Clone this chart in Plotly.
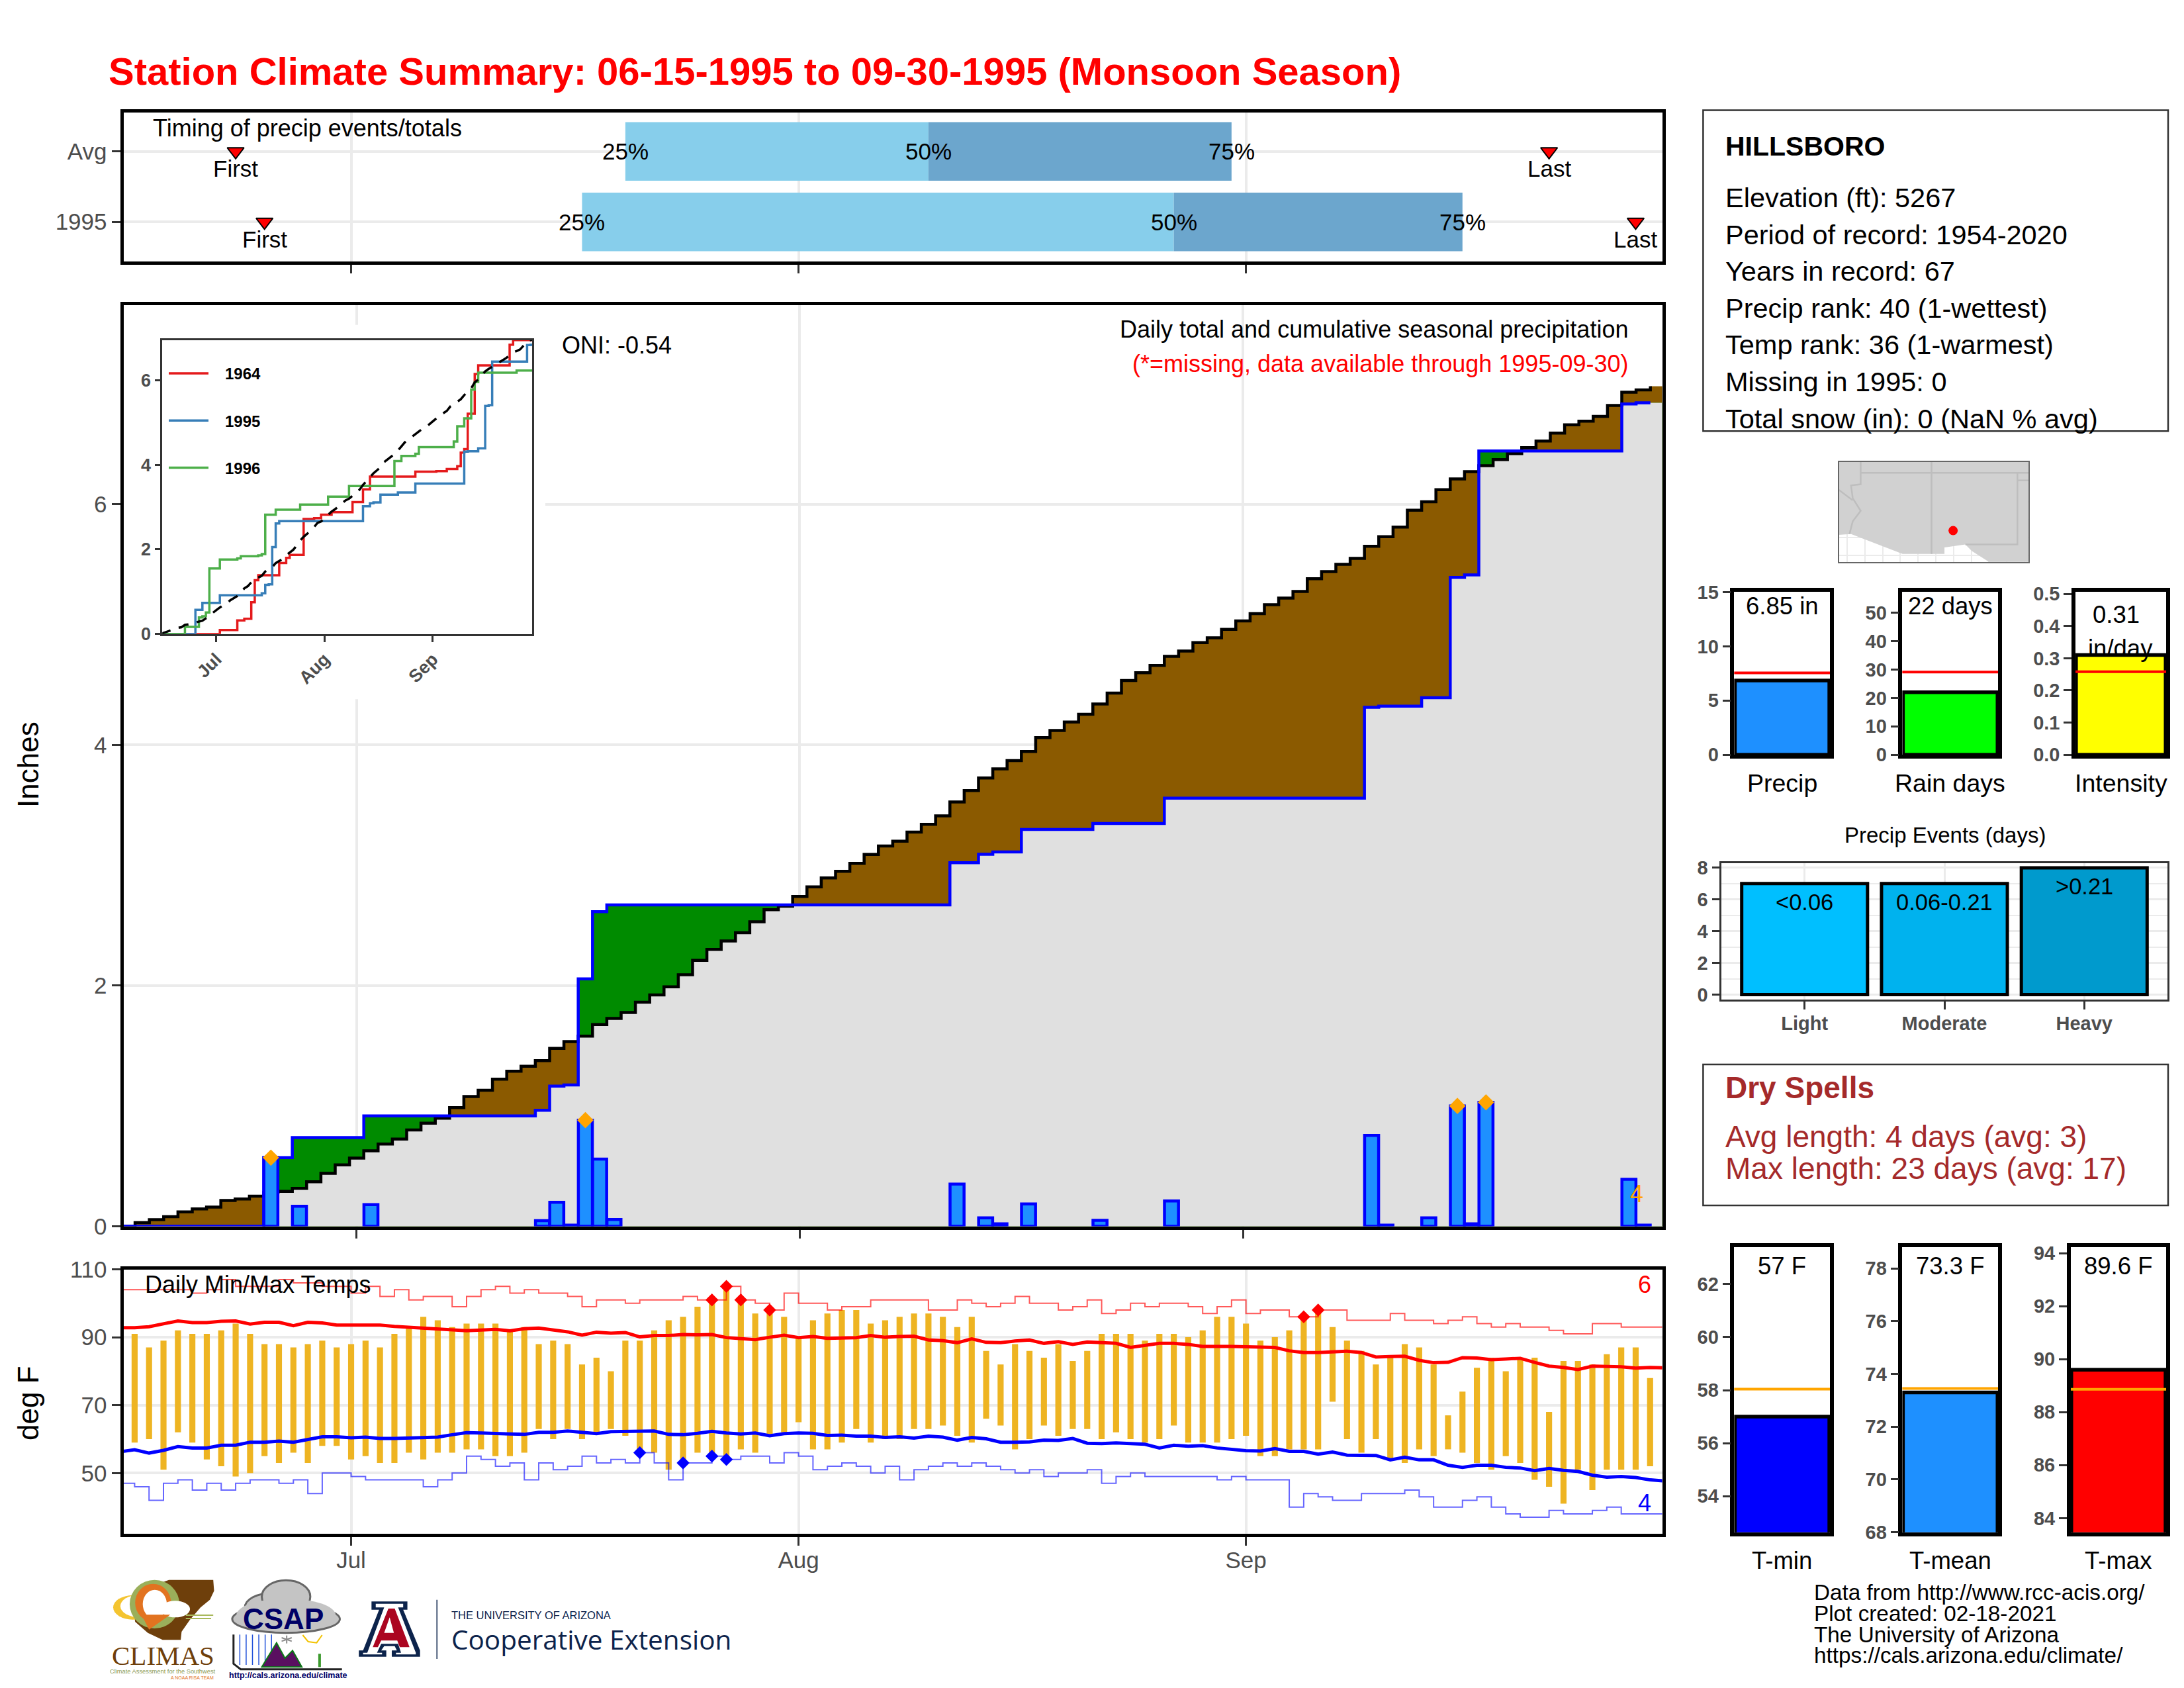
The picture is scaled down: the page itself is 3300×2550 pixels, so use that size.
import plotly.graph_objects as go
from itertools import accumulate

FONT = 'Liberation Sans'
W, H = 3300, 2550
PAGE_MARGIN = 8  # the browser's body margin
GRID = '#EBEBEB'
TICK = '#333333'
LABEL = '#4D4D4D'
NAVY = '#0C234B'

# ---- data: day 0 is Jun 15, day 107 is Sep 30
days = list(range(108))
month_days = [16, 47, 78]
month_names = ['Jul', 'Aug', 'Sep']

daily_precip = [
    0, 0, 0, 0, 0, 0, 0, 0, 0, 0,
    .57, 0, .167, 0, 0, 0, 0, .18, 0, 0,
    0, 0, 0, 0, 0, 0, 0, 0, 0, .047,
    .2, .01, .882, .558, .057, 0, 0, 0, 0, 0,
    0, 0, 0, 0, 0, 0, 0, 0, 0, 0,
    0, 0, 0, 0, 0, 0, 0, 0, .35, 0,
    .07, .02, 0, .186, 0, 0, 0, 0, .05, 0,
    0, 0, 0, .21, 0, 0, 0, 0, 0, 0,
    0, 0, 0, 0, 0, 0, 0, .755, .01, 0,
    0, .07, 0, 1.0, .02, 1.03, 0, 0, 0, 0,
    0, 0, 0, 0, 0, .39, .01, 0]

avg_cum = [
    0, .03, .055, .08, .12, .145, .16, .215, .227, .25,
    .28, .29, .315, .37, .44, .51, .567, .627, .684, .725,
    .80, .857, .898, .986, 1.078, 1.13, 1.222, 1.289, 1.33, 1.377,
    1.478, 1.534, 1.58, 1.676, 1.727, 1.777, 1.862, 1.922, 1.99, 2.09,
    2.21, 2.30, 2.37, 2.44, 2.53, 2.63, 2.66, 2.74, 2.82, 2.895,
    2.95, 3.015, 3.09, 3.16, 3.2, 3.275, 3.34, 3.41, 3.525, 3.62,
    3.725, 3.8, 3.87, 3.945, 4.06, 4.12, 4.19, 4.255, 4.34, 4.43,
    4.535, 4.60, 4.66, 4.735, 4.78, 4.85, 4.89, 4.96, 5.03, 5.09,
    5.165, 5.22, 5.275, 5.38, 5.44, 5.50, 5.55, 5.65, 5.73, 5.81,
    5.95, 6.02, 6.12, 6.21, 6.27, 6.32, 6.37, 6.42, 6.47, 6.525,
    6.59, 6.66, 6.69, 6.73, 6.82, 6.93, 6.95, 6.98]

event_days = [10, 32, 93, 95]
event_labels_y = ['1995', 'Avg']
q25 = [32, 35]
q50 = [73, 56]
q75 = [93, 77]
first_day = [10, 8]
last_day = [105, 99]

# inset: nearby years, only the days where the total changed
y1964_days = [0, 17, 22, 24, 26, 27, 28, 34, 36, 37, 41, 44, 46, 49, 55, 58, 60, 73, 79,
              82, 85, 86, 87, 88, 90, 91, 100, 101, 107]
y1964_vals = [0, .095, .32, .36, .75, 1.27, 1.39, 1.68, 1.8, 1.87, 2.72, 2.74, 2.82, 2.88, 3.12,
              3.42, 3.72, 3.84, 3.85, 3.90, 3.97, 4.29, 4.37, 5.21, 6.15, 6.35, 6.84, 6.95, 6.95]
y1996_days = [0, 7, 11, 12, 13, 14, 17, 22, 23, 28, 29, 30, 33, 40, 48, 54, 67, 69, 73, 74,
              84, 85, 87, 89, 90, 91, 102, 107]
y1996_vals = [0, .17, .39, .42, .51, 1.55, 1.76, 1.79, 1.84, 1.86, 1.89, 2.82, 2.94, 3.06, 3.25,
              3.50, 4.09, 4.21, 4.26, 4.42, 4.55, 4.91, 5.10, 5.78, 5.96, 6.18, 6.23, 6.23]

temp_days = list(range(1, 107))
tmax = [91, 87, 89, 92, 91, 91, 92, 94, 91, 88, 88, 87, 88, 89, 87, 88, 89, 87, 91, 93,
        96, 95, 93, 94, 94, 94, 92, 93, 88, 89, 88, 82, 84, 80, 89, 89, 92, 95, 96, 99,
        101, 105, 101, 97, 98, 96, 90, 95, 97, 98, 98, 94, 95, 96, 97, 97, 96, 93, 96, 86,
        82, 88, 86, 84, 88, 83, 86, 91, 91, 91, 89, 91, 91, 90, 92, 96, 96, 94, 89, 90,
        92, 96, 98, 93, 89, 86, 82, 84, 88, 87, 82, 67, 74, 81, 84, 80, 84, 84, 68, 83,
        83, 82, 85, 87, 87, 78]
tmin = [59, 60, 51, 62, 59, 54, 52, 49, 50, 55, 53, 56, 53, 58, 58, 54, 55, 53, 53, 56,
        54, 56, 56, 57, 57, 55, 55, 56, 63, 60, 63, 60, 62, 63, 61, 56, 56, 51, 53, 56,
        55, 54, 57, 56, 61, 62, 65, 57, 57, 59, 63, 59, 60, 60, 63, 63, 64, 61, 59, 66,
        64, 57, 60, 64, 61, 63, 63, 60, 62, 60, 59, 60, 64, 59, 59, 59, 60, 61, 55, 55,
        57, 57, 57, 71, 60, 56, 60, 54, 53, 57, 55, 57, 56, 53, 51, 55, 53, 48, 46, 41,
        51, 45, 51, 51, 51, 52]
avg_high = [92.8, 92.8, 93.1, 93.9, 94.8, 94.3, 94.3, 94.7, 94.8, 93.9, 94.4, 94.4, 93.4, 94.4, 94.2,
            93.6, 93.6, 93.6, 93.6, 93.2, 92.9, 92.8, 92.3, 92.2, 91.9, 92.1, 92.3, 91.9, 92.5, 92.7,
            92.1, 91.6, 90.6, 91.5, 91.2, 91.4, 90.1, 90.5, 90.5, 90.8, 90.7, 90.8, 89.9, 89.6, 89.3,
            90, 90.6, 89.9, 90.2, 89.7, 89.7, 89.9, 90.5, 90.0, 90.2, 90.3, 89.2, 89.0, 88.4, 89.5,
            88.5, 88.4, 88.9, 89.2, 88.2, 88.7, 87.9, 88.6, 88.4, 88.2, 87, 87.7, 88.2, 88.2, 87.9,
            87.3, 87.4, 87.3, 87.2, 87.2, 87.0, 86, 85.5, 85.5, 85.8, 85.9, 85.5, 84.2, 84.3, 84.4,
            83.2, 82.5, 82.6, 84, 83.9, 83.4, 83.6, 83.8, 82.6, 81.5, 81.1, 80.5, 81.5, 81.5, 81.3,
            80.9, 81.1, 81.0]
avg_low = [56.3, 56.9, 55.9, 56.7, 57.8, 57.4, 57.4, 58.2, 58.2, 59.1, 59.1, 59.4, 59.1, 60, 60.7,
           60.7, 60.4, 60.6, 60.2, 60.2, 60.4, 60.6, 60.6, 61.3, 61.9, 61.8, 61.6, 61.4, 61.4, 62,
           62, 62.4, 62, 61.6, 62.2, 62.2, 62.2, 62.4, 61.4, 61.3, 61.7, 62.3, 61.8, 61.5, 61.8,
           61.0, 61.6, 61.8, 61.7, 61.1, 61.2, 60.9, 60.9, 60.5, 60.7, 60.3, 60.9, 60.6, 59.7, 60.5,
           60.1, 59.1, 59.1, 59.2, 59.7, 59.6, 60.2, 58.8, 58.7, 58.9, 58.7, 58.5, 57.4, 58.2, 57.9,
           58.1, 57.4, 57, 56.6, 56.5, 57.2, 56.4, 56.4, 55.6, 56.2, 55.3, 55.2, 55.2, 53.9, 54.7,
           53.9, 53.9, 52.3, 51.7, 52.3, 52.3, 51.7, 51.5, 50.7, 51.4, 50.8, 50.5, 49.4, 48.8, 49,
           48.7, 48, 47.7]
rec_high = [104, 104, 104, 104, 104, 103, 104, 107, 105, 105, 105, 107, 106, 106, 105, 105, 103, 105,
            102, 104, 101, 102, 102, 99, 102, 104, 105, 103, 104, 103, 103, 102, 99, 101, 101, 100,
            101, 101, 101, 102, 101, 101, 105, 101, 100, 98, 103, 100, 100, 98, 99, 99, 101, 101,
            101, 101, 98, 98, 101, 100, 99, 100, 102, 100, 100, 98, 99, 101, 97, 98, 100, 99,
            100, 100, 99, 97, 99, 101, 97, 98, 98, 96, 96, 98, 98, 95, 95, 95, 97, 95, 95, 94,
            95, 96, 94, 93, 94, 93, 93, 92, 91, 91, 94, 94, 93, 93, 93, 93]
rec_low = [47, 46, 42, 47, 48, 45, 47, 45, 47, 48, 48, 47, 48, 44, 50, 50, 49, 48, 48, 48, 48, 46,
           48, 50, 55, 54, 52, 53, 48, 53, 51, 52, 55, 53, 54, 53, 56, 53, 48, 53, 53, 55, 54,
           55, 55, 53, 56, 55, 51, 52, 53, 52, 50, 52, 48, 51, 52, 53, 52, 53, 52, 51, 50, 51,
           49, 50, 50, 51, 47, 49, 50, 49, 49, 49, 49, 49, 48, 49, 48, 48, 48, 40, 44, 43, 42,
           42, 44, 44, 44, 45, 43, 40, 40, 42, 43, 40, 38, 37, 37, 39, 38, 38, 39, 40, 38, 38,
           38, 38]
hot_days = [41, 42, 43, 45, 82, 83]
hot_vals = [101, 105, 101, 98, 96, 98]
cold_days = [36, 39, 41, 42]
cold_vals = [56, 53, 55, 54]

precip_names = ['Precip', 'Rain days', 'Intensity']
precip_vals = [6.85, 22, .31]
precip_avgs = [7.55, 29.1, .258]
precip_colors = ['#1E90FF', '#00FF00', '#FFFF00']
temp_names = ['T-min', 'T-mean', 'T-max']
temp_vals = [57, 73.3, 89.6]
temp_avgs = [58.04, 73.45, 88.86]
temp_colors = ['#0000FF', '#1E90FF', '#FF0000']
event_names = ['Light', 'Moderate', 'Heavy']
event_vals = [7, 7, 8]
event_bins = ['<0.06', '0.06-0.21', '>0.21']
event_colors = ['#00BFFF', '#00B2EE', '#009ACD']

land_lon = [-115.6, -102.16, -102.16, -104.97, -106.22, -106.67, -108.14, -108.14, -111.09, -114.72, -115.6]
land_lat = [37.8, 37.8, 30.75, 30.75, 31.54, 31.99, 31.78, 31.34, 31.34, 32.72, 32.66]
border_lon = [-109.05, -109.05, None, -114.04, -102.16, None, -103, -103, -106.67, None, -103, -102.16, None,
              -114.04, -114.04, -114.72, -114.6, -114.04, -114.6, -114.83, None, -115.6, -114.6]
border_lat = [37.8, 31.34, None, 37, 37, None, 37, 31.99, 31.99, None, 36.47, 36.47, None,
              37.8, 36.2, 36.12, 35.23, 34.34, 33.61, 32.72, None, 35.82, 35.08]
station_lon = [-107.53]
station_lat = [32.96]

station_lines = ['Elevation (ft): 5267', 'Period of record: 1954-2020', 'Years in record: 67',
                 'Precip rank: 40 (1-wettest)', 'Temp rank: 36 (1-warmest)', 'Missing in 1995: 0',
                 'Total snow (in): 0 (NaN % avg)']
credit_lines = ['Data from http://www.rcc-acis.org/', 'Plot created: 02-18-2021',
                'The University of Arizona', 'https://cals.arizona.edu/climate/']

cum_1995 = list(accumulate(daily_precip))
cum_floor = [min(a, b) for a, b in zip(avg_cum, cum_1995)]
# steps sit half a day early, and the fills run on past the last day
step_x = [d - 0.5 for d in days]
fill_x = step_x + [107.5]
# no zero bars, their outline would paint the axis blue
wet_days = [d for d in days if daily_precip[d] > 0]
wet_vals = [daily_precip[d] for d in wet_days]


def xp(px):
    return (px - PAGE_MARGIN) / W


def yp(py):
    return 1 - (py - PAGE_MARGIN) / H


fig = go.Figure()
notes = []
shapes = []


def note(text, x, y, size, color='black', anchor='left', font=FONT, bold=False):
    if bold:
        text = '<b>' + text + '</b>'
    notes.append(dict(text=text, x=xp(x), y=yp(y), xref='paper', yref='paper', xanchor=anchor,
                      yanchor='middle', showarrow=False, font=dict(family=font, size=size, color=color)))


def data_note(text, x, y, axis, yshift=0, size=35, color='black'):
    notes.append(dict(text=text, x=x, y=y, xref='x' + axis, yref='y' + axis, yshift=yshift,
                      xanchor='center', yanchor='middle', showarrow=False,
                      font=dict(family=FONT, size=size, color=color)))


def box(x0, y0, x1, y1, color='#333333', width=2.5, fill=None):
    shapes.append(dict(type='rect', xref='paper', yref='paper', x0=xp(x0), x1=xp(x1), y0=yp(y0), y1=yp(y1),
                       line=dict(color=color, width=width), fillcolor=fill, layer='above'))


def axes(n, x0, y0, x1, y1, xrange, yrange, **extra):
    """Axis pair placed by pixel box; n is the plotly axis number."""
    suffix = '' if n == 1 else str(n)
    xa = dict(anchor='y' + suffix, showline=True, mirror=True,
              linecolor='black', linewidth=5, ticks='outside', tickcolor=TICK, ticklen=13, tickwidth=3,
              showgrid=False, zeroline=False, showticklabels=False,
              tickfont=dict(family=FONT, size=35, color=LABEL))
    ya = dict(anchor='x' + suffix, showline=True, mirror=True,
              linecolor='black', linewidth=5, ticks='outside', tickcolor=TICK, ticklen=13, tickwidth=3,
              showgrid=False, zeroline=False,
              tickfont=dict(family=FONT, size=35, color=LABEL))
    xa.update(extra.get('x', {}))
    ya.update(extra.get('y', {}))
    # plotly draws axis lines outside the domain, so pull the domain in by half a line
    dx = xa['linewidth'] / 2
    dy = ya['linewidth'] / 2
    sx = (xrange[1] - xrange[0]) / (x1 - x0)
    sy = (yrange[1] - yrange[0]) / (y1 - y0)
    xa['domain'] = [xp(x0 + dx), xp(x1 - dx)]
    xa['range'] = [xrange[0] + dx * sx, xrange[1] - dx * sx]
    ya['domain'] = [yp(y1 - dy), yp(y0 + dy)]
    low, high = yrange[0] + dy * sy, yrange[1] - dy * sy
    # a tick sitting on the panel edge must stay inside the range or it vanishes
    for t in ya.get('tickvals', []):
        if yrange[0] <= t < low:
            low = t
        if high < t <= yrange[1]:
            high = t
    ya['range'] = [low, high]
    fig.update_layout({'xaxis' + suffix: xa, 'yaxis' + suffix: ya})


month_ticks = dict(tickmode='array', tickvals=month_days, ticktext=month_names, showgrid=True,
                   gridcolor=GRID, gridwidth=3.5)

# ---- main precipitation panel
axes(1, 184, 458, 2514, 1855, [-0.43, 107.44], [0, 7.67],
     x=month_ticks,
     y=dict(tickmode='array', tickvals=[0, 2, 4, 6], showgrid=True, gridcolor=GRID, gridwidth=3.5))
# bars always sit under scatter in one subplot, so bars and 1995 get an overlaid pair on top of the fills
axes(13, 184, 458, 2514, 1855, [-0.43, 107.44], [0, 7.67],
     x=dict(overlaying='x', visible=False),
     y=dict(overlaying='y', visible=False, tickmode='array', tickvals=[0, 2, 4, 6]))

for ys, color in [(avg_cum, '#8B5A00'), (cum_1995, '#008B00'), (cum_floor, '#E0E0E0')]:
    fig.add_trace(go.Scatter(x=fill_x, y=ys + [ys[-1]], mode='lines', line=dict(width=0, shape='hv'),
                             fill='tozeroy', fillcolor=color, xaxis='x', yaxis='y', showlegend=False))
fig.add_trace(go.Scatter(x=step_x, y=avg_cum, mode='lines', line=dict(color='black', width=4.5, shape='hv'),
                         xaxis='x', yaxis='y', showlegend=False))
fig.add_trace(go.Bar(x=wet_days, y=wet_vals, width=0.98,
                     marker=dict(color='#1E90FF', line=dict(color='#0000FF', width=4.5)),
                     xaxis='x13', yaxis='y13', showlegend=False))
fig.add_trace(go.Scatter(x=step_x, y=cum_1995, mode='lines', line=dict(color='#0000FF', width=4.5, shape='hv'),
                         xaxis='x13', yaxis='y13', showlegend=False))
fig.add_trace(go.Scatter(x=event_days, y=[daily_precip[d] for d in event_days], mode='markers',
                         marker=dict(symbol='diamond', size=19, color='#FFA500'),
                         xaxis='x13', yaxis='y13', showlegend=False))
# white patch behind the inset hides the main grid
shapes.append(dict(type='rect', xref='x', yref='y', x0=-0.43, x1=29.2, y0=4.38, y1=7.49,
                   fillcolor='white', line=dict(width=0), layer='between'))

# ---- timing panel
axes(2, 184, 167, 2514, 397, [0.11, 106.95], [-0.58, 1.58],
     x=month_ticks,
     y=dict(tickmode='array', tickvals=[0, 1], ticktext=event_labels_y, showgrid=True,
            gridcolor=GRID, gridwidth=3.5))
cats = [0, 1]
fig.add_trace(go.Bar(y=cats, x=[b - a for a, b in zip(q25, q50)], base=q25, orientation='h', width=0.83,
                     marker=dict(color='#87CEEB', line=dict(width=0)), xaxis='x2', yaxis='y2', showlegend=False))
fig.add_trace(go.Bar(y=cats, x=[b - a for a, b in zip(q50, q75)], base=q50, orientation='h', width=0.83,
                     marker=dict(color='#6CA6CD', line=dict(width=0)), xaxis='x2', yaxis='y2', showlegend=False))
fig.update_layout(barmode='overlay')
fig.add_trace(go.Scatter(x=first_day + last_day, y=cats + cats, mode='markers',
                         marker=dict(symbol='triangle-down', size=22, color='#FF0000',
                                     line=dict(color='black', width=2)),
                         xaxis='x2', yaxis='y2', showlegend=False))
for c in cats:
    data_note('25%', q25[c], c, '2')
    data_note('50%', q50[c], c, '2')
    data_note('75%', q75[c], c, '2')
    data_note('First', first_day[c], c, '2', yshift=-26)
    data_note('Last', last_day[c], c, '2', yshift=-26)

# ---- temperature panel
axes(3, 184, 1915, 2514, 2319, [0.11, 106.95], [31.75, 110.2],
     x=dict(month_ticks, showticklabels=True, ticklabelstandoff=-8),
     y=dict(tickmode='array', tickvals=[50, 70, 90, 110], showgrid=True, gridcolor=GRID, gridwidth=3.5))
fig.add_trace(go.Bar(x=temp_days, y=[a - b for a, b in zip(tmax, tmin)], base=tmin, width=0.42,
                     marker=dict(color='#EEB422', line=dict(width=0)), xaxis='x3', yaxis='y3', showlegend=False))
fig.add_trace(go.Scatter(x=days, y=rec_high, mode='lines', line=dict(color='rgba(255,0,0,0.65)', width=2, shape='hv'),
                         xaxis='x3', yaxis='y3', showlegend=False))
fig.add_trace(go.Scatter(x=days, y=rec_low, mode='lines', line=dict(color='rgba(0,0,255,0.6)', width=2, shape='hv'),
                         xaxis='x3', yaxis='y3', showlegend=False))
fig.add_trace(go.Scatter(x=days, y=avg_high, mode='lines', line=dict(color='#FF0000', width=5),
                         xaxis='x3', yaxis='y3', showlegend=False))
fig.add_trace(go.Scatter(x=days, y=avg_low, mode='lines', line=dict(color='#0000FF', width=5),
                         xaxis='x3', yaxis='y3', showlegend=False))
fig.add_trace(go.Scatter(x=hot_days, y=hot_vals, mode='markers', marker=dict(symbol='diamond', size=15, color='#FF0000'),
                         xaxis='x3', yaxis='y3', showlegend=False))
fig.add_trace(go.Scatter(x=cold_days, y=cold_vals, mode='markers', marker=dict(symbol='diamond', size=15, color='#0000FF'),
                         xaxis='x3', yaxis='y3', showlegend=False))

# ---- inset of cumulative totals
small_tick = dict(family=FONT, size=27, color=LABEL, weight='bold')
axes(4, 244, 512.5, 805.7, 959, [0.28, 106.76], [0, 6.97],
     x=dict(tickmode='array', tickvals=month_days, ticktext=month_names, showticklabels=True, tickangle=-45,
            linecolor='#333333', linewidth=2.5, ticklen=9, tickfont=small_tick),
     y=dict(tickmode='array', tickvals=[0, 2, 4, 6], linecolor='#333333', linewidth=2.5, ticklen=9,
            tickfont=small_tick))
for name, xs, ys, color in [('1964', y1964_days, y1964_vals, '#E41A1C'),
                            ('1995', days, cum_1995, '#377EB8'),
                            ('1996', y1996_days, y1996_vals, '#4DAF4A')]:
    fig.add_trace(go.Scatter(x=xs, y=ys, name='&nbsp;&nbsp;&nbsp;<b>' + name + '</b>', legendgroup=name, mode='lines',
                             line=dict(color=color, width=3.5, shape='hv'), xaxis='x4', yaxis='y4'))
fig.add_trace(go.Scatter(x=days, y=avg_cum, mode='lines', line=dict(color='black', width=3.5, dash='16px,13px'),
                         xaxis='x4', yaxis='y4', showlegend=False))

# ---- location map
axes(5, 2778, 697, 3065.5, 849.6, [-115.6, -102.2], [30.74, 37.8],
     x=dict(ticks='', linecolor='#666666', linewidth=1.5, showgrid=True, gridcolor=GRID, gridwidth=1.5, dtick=1.25),
     y=dict(ticks='', linecolor='#666666', linewidth=1.5, showgrid=True, gridcolor=GRID, gridwidth=1.5, dtick=1.25,
            showticklabels=False))
fig.add_trace(go.Scatter(x=land_lon, y=land_lat, mode='lines', line=dict(width=0), fill='toself',
                         fillcolor='#D1D1D1', xaxis='x5', yaxis='y5', showlegend=False))
fig.add_trace(go.Scatter(x=border_lon, y=border_lat, mode='lines', line=dict(color='#BEBEBE', width=2.5),
                         connectgaps=False, xaxis='x5', yaxis='y5', showlegend=False))
fig.add_trace(go.Scatter(x=station_lon, y=station_lat, mode='markers', marker=dict(color='#FF0000', size=14),
                         xaxis='x5', yaxis='y5', showlegend=False))

# ---- small bar panels
bold_tick = dict(family=FONT, size=29, color=LABEL, weight='bold')


def gauge(n, x0, y0, x1, y1, yrange, tickvals, value, avg, color, avg_color, ticktext=None):
    ya = dict(tickmode='array', tickvals=tickvals, tickfont=bold_tick, ticklen=12, linewidth=5.5)
    if ticktext:
        ya['ticktext'] = ticktext
    axes(n, x0, y0, x1, y1, [-0.5, 0.5], yrange, x=dict(ticks='', linewidth=5.5), y=ya)
    fig.add_trace(go.Bar(x=[0], y=[value], width=0.95, marker=dict(color=color, line=dict(color='black', width=5.5)),
                         xaxis='x' + str(n), yaxis='y' + str(n), showlegend=False))
    fig.add_trace(go.Scatter(x=[-0.5, 0.5], y=[avg, avg], mode='lines', line=dict(color=avg_color, width=4),
                             xaxis='x' + str(n), yaxis='y' + str(n), showlegend=False))


gauge(6, 2617.6, 891.7, 2767.8, 1143, [0, 15], [0, 5, 10, 15], precip_vals[0], precip_avgs[0], precip_colors[0], '#FF0000')
gauge(7, 2871.6, 891.7, 3022, 1143, [0, 57.9], [0, 10, 20, 30, 40, 50], precip_vals[1], precip_avgs[1], precip_colors[1], '#FF0000')
gauge(8, 3133.3, 891.7, 3275.8, 1143, [0, 0.511], [0, .1, .2, .3, .4, .5], precip_vals[2], precip_avgs[2], precip_colors[2], '#FF0000',
      ticktext=['0.0', '0.1', '0.2', '0.3', '0.4', '0.5'])
gauge(10, 2617.6, 1881, 2767.8, 2317.4, [52.57, 63.47], [54, 56, 58, 60, 62], temp_vals[0], temp_avgs[0], temp_colors[0], '#FFA500')
gauge(11, 2871.6, 1881, 3022, 2317.4, [67.98, 78.88], [68, 70, 72, 74, 76, 78], temp_vals[1], temp_avgs[1], temp_colors[1], '#FFA500')
gauge(12, 3126, 1881, 3275.8, 2317.4, [83.4, 94.3], [84, 86, 88, 90, 92, 94], temp_vals[2], temp_avgs[2], temp_colors[2], '#FFA500')

# ---- precip events panel
axes(9, 2600, 1303, 3276, 1511.4, [-0.6, 2.6], [-0.37, 8.33],
     x=dict(tickmode='array', tickvals=[0, 1, 2], ticktext=event_names, showticklabels=True, tickfont=bold_tick,
            linecolor='#333333', linewidth=2.5, showgrid=True, gridcolor=GRID, gridwidth=3, ticklen=12,
            ticklabelstandoff=-4),
     y=dict(tickmode='array', tickvals=[0, 2, 4, 6, 8], tickfont=bold_tick, linecolor='#333333', linewidth=2.5,
            showgrid=True, gridcolor=GRID, gridwidth=3, ticklen=12,
            minor=dict(tickmode='array', tickvals=[1, 3, 5, 7], showgrid=True, gridcolor=GRID, gridwidth=1.5, ticklen=0)))
fig.add_trace(go.Bar(x=[0, 1, 2], y=event_vals, width=0.9,
                     marker=dict(color=event_colors, line=dict(color='black', width=5)),
                     xaxis='x9', yaxis='y9', showlegend=False))
for i, label in enumerate(event_bins):
    data_note(label, i, event_vals[i], '9', yshift=-28, size=34.5)

# ---- text
note('Station Climate Summary: 06-15-1995 to 09-30-1995 (Monsoon Season)', 162, 108, 58, '#FF0000', bold=True)
note('Timing of precip events/totals', 229, 193.5, 36)
note('ONI: -0.54', 847, 522, 36)
note('Daily total and cumulative seasonal precipitation', 2462, 498, 36, anchor='right')
note('(*=missing, data available through 1995-09-30)', 2462, 549, 36, '#FF0000', anchor='right')
note('4', 2473, 1803, 36, '#FFA500', anchor='center')
note('Daily Min/Max Temps', 217, 1940, 36)
note('6', 2485, 1940, 36, '#FF0000', anchor='center')
note('4', 2485, 2270, 36, '#0000FF', anchor='center')
note('Inches', 42, 1155, 44, anchor='center')
note('deg F', 42, 2120, 44, anchor='center')
notes[-1]['textangle'] = -90
notes[-2]['textangle'] = -90

box(2573.4, 166.6, 3276, 651.3)
note('HILLSBORO', 2604.5, 221, 41, bold=True)
for i, line in enumerate(station_lines):
    note(line, 2604.5, 298.5 + i * 55.6, 41.5)

note('6.85 in', 2692.7, 915, 36.5, anchor='center')
note('22 days', 2946.8, 915, 36.5, anchor='center')
note('0.31', 3197, 928, 36.5, anchor='center')
note('in/day', 3204, 979, 36.5, anchor='center')
for name, x in zip(precip_names, [2692.7, 2946.8, 3204.5]):
    note(name, x, 1183, 37.5, anchor='center')

note('Precip Events (days)', 2938.5, 1261.5, 33, anchor='center')

box(2573.4, 1608, 3276, 1821)
note('Dry Spells', 2604.5, 1643, 46, '#A52A2A', bold=True)
note('Avg length: 4 days (avg: 3)', 2604.5, 1717, 46, '#A52A2A')
note('Max length: 23 days (avg: 17)', 2604.5, 1765, 46, '#A52A2A')

for txt, x in zip(['57 F', '73.3 F', '89.6 F'], [2692.7, 2946.8, 3200.9]):
    note(txt, x, 1912.5, 36.5, anchor='center')
for name, x in zip(temp_names, [2692.7, 2946.8, 3200.9]):
    note(name, x, 2357, 36.5, anchor='center')
for i, line in enumerate(credit_lines):
    note(line, 2739, 2405.8 + i * 31.7, 33.3)


# ---- logos, drawn roughly from the reference crop
def lx(zx):
    return xp(zx / 1.568 + 150)


def ly(zy):
    return yp(zy / 3 + 2350)


def poly(points, fill, line=None, width=0, close=True):
    path = 'M ' + ' L '.join('%.5f %.5f' % (lx(a), ly(b)) for a, b in points) + (' Z' if close else '')
    shapes.append(dict(type='path', xref='paper', yref='paper', path=path, fillcolor=fill if close else None,
                       line=dict(color=line or fill, width=width), layer='above'))


def oval(a, b, c, d, fill, line=None, width=0):
    shapes.append(dict(type='circle', xref='paper', yref='paper', x0=lx(a), x1=lx(c), y0=ly(b), y1=ly(d),
                       fillcolor=fill, line=dict(color=line or fill, width=width), layer='above'))


# CLIMAS
poly([(165, 110), (270, 110), (272, 160), (262, 200), (240, 235), (215, 290), (195, 345), (193, 382), (150, 382),
      (115, 350), (85, 300), (80, 240), (90, 190), (115, 145)], '#6E3F0B')
oval(33, 180, 125, 290, '#F4C430')
oval(50, 178, 140, 280, 'white')
oval(72, 110, 190, 330, '#9BAF5A')
oval(85, 128, 170, 300, '#E27320')
oval(103, 155, 160, 285, 'white')
oval(145, 205, 215, 280, 'white')
poly([(100, 268), (168, 268), (118, 335)], '#E27320')
poly([(205, 270), (270, 270)], None, '#A9B95C', 2, close=False)
poly([(205, 285), (265, 285)], None, '#A9B95C', 2, close=False)
note('CLIMAS', 246, 2501, 41, '#6E3F0B', anchor='center', font='Liberation Serif')
note('Climate Assessment for the Southwest', 246, 2525, 9.3, '#8A9A55', anchor='center')
note('A NOAA RISA TEAM', 325, 2534, 7, '#E27320', anchor='right')

# CSAP
oval(315, 225, 570, 350, '#C4C4C4', '#666666', 3)
oval(345, 170, 470, 300, '#C4C4C4', '#666666', 3)
oval(385, 112, 500, 260, '#C4C4C4', '#666666', 3)
oval(325, 195, 560, 345, '#C4C4C4')
oval(395, 125, 490, 250, '#C4C4C4')
note('CSAP', 427.5, 2445, 44, '#000066', anchor='center', bold=True)
for zx in [333, 348, 363, 378, 393, 408]:
    poly([(zx, 358), (zx, 495)], None, '#1F4FD8', 1.5, close=False)
poly([(318, 358), (318, 490), (335, 515), (575, 515)], None, '#222222', 3, close=False)
poly([(385, 505), (420, 395), (440, 465), (458, 430), (480, 505)], '#5A1060', '#0B7A16', 2)
poly([(522, 445), (522, 505)], None, '#3C9A2E', 4, close=False)
poly([(482, 360), (495, 390), (515, 395), (528, 360)], None, '#F2C200', 2, close=False)
poly([(444, 362), (444, 398)], None, '#8A8A8A', 2, close=False)
poly([(432, 372), (456, 388)], None, '#8A8A8A', 2, close=False)
poly([(432, 388), (456, 372)], None, '#8A8A8A', 2, close=False)
note('http://cals.arizona.edu/climate', 435.5, 2531, 12.5, '#000066', anchor='center', bold=True)

# Arizona block A
poly([(645, 208), (730, 208), (730, 245), (720, 245), (760, 430), (760, 458), (693, 458), (693, 430), (705, 430),
      (700, 410), (675, 410), (668, 430), (680, 430), (680, 458), (615, 458), (615, 430), (625, 430), (663, 245),
      (645, 245)], NAVY)
poly([(655, 218), (720, 218), (720, 235), (708, 235), (750, 440), (750, 448), (703, 448), (703, 440), (715, 440),
      (708, 400), (668, 400), (658, 440), (670, 440), (670, 448), (625, 448), (625, 440), (635, 440), (675, 235),
      (655, 235)], 'white')
poly([(685, 240), (700, 240), (735, 415), (712, 415), (706, 385), (668, 385), (660, 415), (648, 415)], '#AB0520')
poly([(688, 280), (698, 350), (675, 350)], 'white')
poly([(800, 200), (800, 468)], None, NAVY, 1.5, close=False)
note('THE UNIVERSITY OF ARIZONA', 680, 2440, 16.5, NAVY)
note('Cooperative Extension', 680, 2476.7, 40.5, NAVY, font='Open Sans')

fig.update_layout(
    width=W, height=H,
    margin=dict(l=0, r=0, t=0, b=0, autoexpand=False),
    paper_bgcolor='white', plot_bgcolor='white',
    font=dict(family=FONT),
    annotations=notes, shapes=shapes,
    legend=dict(x=xp(250), y=yp(542), xanchor='left', yanchor='top', bgcolor='rgba(0,0,0,0)',
                tracegroupgap=37, itemwidth=60, font=dict(family=FONT, size=24, color='black')),
)

fig.write_html("out.html")
